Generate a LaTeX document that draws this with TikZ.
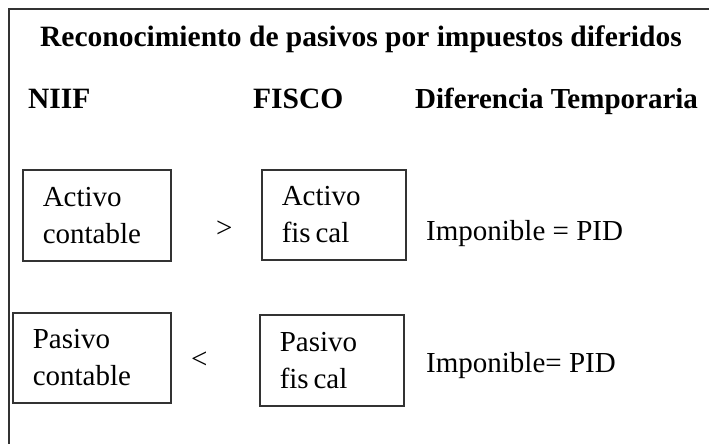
\documentclass[tikz,border=0pt]{standalone}
\usepackage{fontspec}
\setmainfont{Liberation Serif}
\usetikzlibrary{positioning}

\begin{document}
\begin{tikzpicture}[x=1pt,y=-1pt,
  caja/.style={draw=black!80,line width=1.5pt,anchor=north west,align=left,
    inner xsep=20pt,inner ysep=0pt,minimum height=91pt},
  titulo/.style={font=\fontsize{29.5}{37}\selectfont\bfseries,anchor=base west,inner sep=0pt},
  texto/.style={font=\fontsize{29}{37}\selectfont,anchor=base west,inner sep=0pt}]
  \useasboundingbox (0,0) rectangle (709,444);
  \fontsize{29}{37}\selectfont
  % marco
  \draw[black!80,line width=1.8pt] (9,444)--(9,9)--(709,9);
  % encabezados
  \node[titulo,anchor=base] (tit) at (361,47) {Reconocimiento de pasivos por impuestos diferidos};
  \node[titulo] (niif) at (28,108) {NIIF};
  \node[titulo] (fisco) at (253,108) {FISCO};
  \node[titulo,font=\fontsize{29}{37}\selectfont\bfseries] (dif) at (415,108) {Diferencia Temporaria};
  % fila de activos
  \node[caja,text width=108pt] (actcon) at (22,169) {Activo\\contable};
  \node[caja,text width=104pt,minimum height=90pt] (actfis) at (261,169) {Activo\\fis\,cal};
  \node[texto] (mayor) at (216,237) {>};
  \node[texto] (imp1) at (426,240) {Imponible = PID};
  % fila de pasivos
  \node[caja,text width=118pt,minimum height=90pt] (pascon) at (12,312) {Pasivo\\contable};
  \node[caja,text width=104pt] (pasfis) at (259,314) {Pasivo\\fis\,cal};
  \node[texto] (menor) at (191,368) {<};
  \node[texto] (imp2) at (426,372) {Imponible= PID};
\end{tikzpicture}
\end{document}
